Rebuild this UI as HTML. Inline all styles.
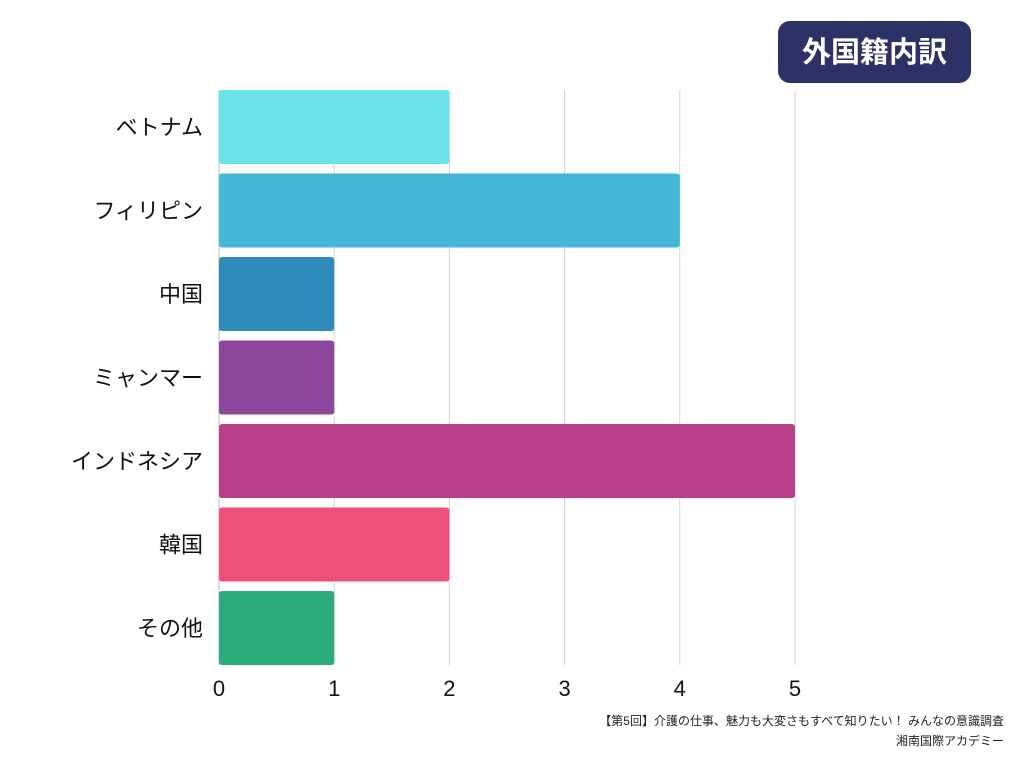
<!DOCTYPE html>
<html><head><meta charset="utf-8"><style>
body{margin:0;background:#fff;width:1024px;height:768px;overflow:hidden;font-family:"Liberation Sans","Noto Sans CJK JP",sans-serif;}
</style></head><body>
<svg id="chart" width="1024" height="768" xmlns="http://www.w3.org/2000/svg">
<g>
<rect x="778" y="21" width="193" height="62" rx="12" fill="#2e3166"/>
<text x="874.5" y="62" text-anchor="middle" fill="#fff" font-size="29" font-weight="bold" font-family="Liberation Sans,Noto Sans CJK JP,sans-serif">外国籍内訳</text>
</g>
<g id="grid"></g><g id="bars"></g><g id="labels"></g><g id="ticks"></g>
<text x="1004" y="725" text-anchor="end" font-size="12" fill="#222" font-family="Liberation Sans,Noto Sans CJK JP,sans-serif">【第5回】介護の仕事、魅力も大変さもすべて知りたい！ みんなの意識調査</text>
<text x="1004" y="745" text-anchor="end" font-size="12" fill="#222" font-family="Liberation Sans,Noto Sans CJK JP,sans-serif">湘南国際アカデミー</text>
</svg>
<script>
const categories=["ベトナム","フィリピン","中国","ミャンマー","インドネシア","韓国","その他"];
const values=[2,4,1,1,5,2,1];
const colors=["#6ae4e9","#42b7d6","#2e8bba","#8a479b","#b93f8b","#ef4f7c","#2dac7b"];
const tickLabels=[0,1,2,3,4,5];
const NS="http://www.w3.org/2000/svg";
const x0=219,unit=115.2,yTop=90,yBottom=665;
const band=83.5,firstCy=127,barH=74;
const xs=v=>x0+v*unit;
const mk=(t,a,p)=>{const e=document.createElementNS(NS,t);for(const k in a)e.setAttribute(k,a[k]);p.appendChild(e);return e;};
const g=document.getElementById('grid'),b=document.getElementById('bars'),l=document.getElementById('labels'),tk=document.getElementById('ticks');
tickLabels.forEach(t=>{
 const ln=mk('line',{x1:xs(t),x2:xs(t),y1:yTop,y2:yBottom,stroke:t===0?'#bbb':'#d3d3d3','stroke-width':1},g);
 
 
 const tx=mk('text',{x:xs(t),y:696,'text-anchor':'middle','font-size':22,fill:'#111'},tk);
 tx.textContent=t;
 
 
});
categories.forEach((c,i)=>{
 const cy=firstCy+band*i;
 const r=mk('rect',{x:x0,y:cy-barH/2,width:values[i]*unit,height:barH,rx:3,fill:colors[i]},b);
 
 
 const tx=mk('text',{x:203,y:cy+8,'text-anchor':'end','font-size':22,fill:'#111'},l);
 tx.textContent=c;
 
 
});
</script>
</body></html>
